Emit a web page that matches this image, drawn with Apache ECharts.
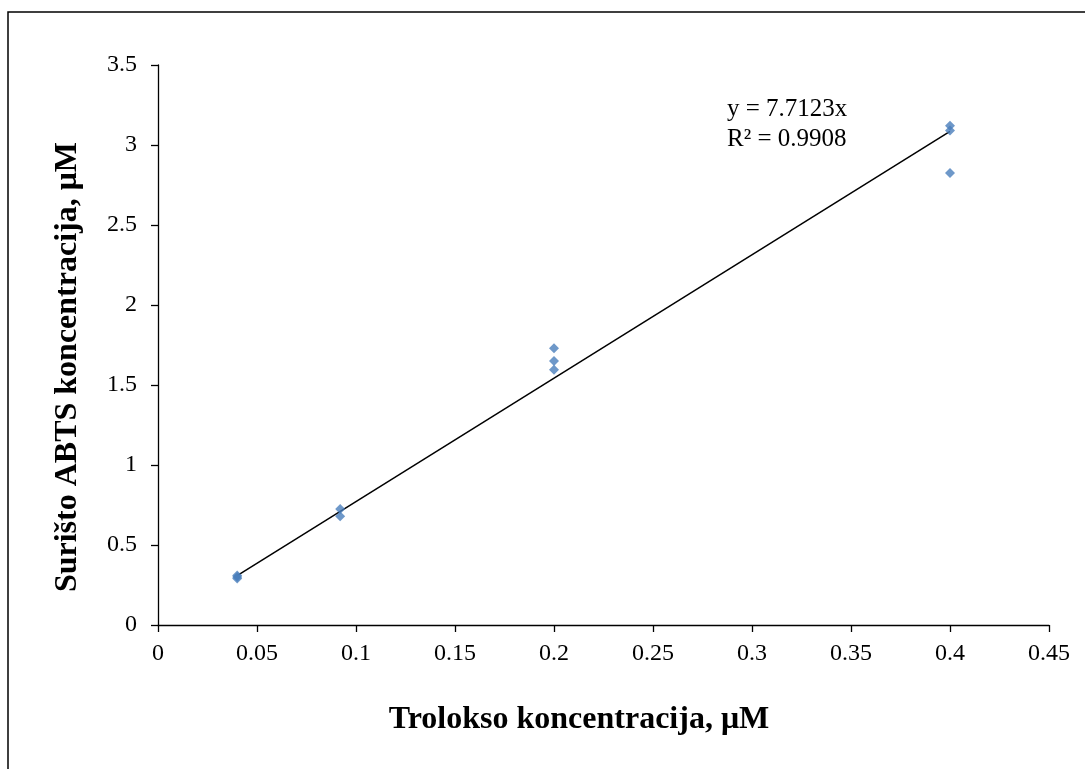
<!DOCTYPE html>
<html><head><meta charset="utf-8">
<script src="https://cdn.jsdelivr.net/npm/echarts@6/dist/echarts.min.js"></script>
<style>html,body{margin:0;padding:0;background:#fff}#c{width:1085px;height:769px}</style>
</head><body><div id="c"></div>
<script>
const pointsX = [0.04, 0.04, 0.04, 0.092, 0.092, 0.2, 0.2, 0.2, 0.4, 0.4, 0.4];
const pointsY = [0.31, 0.30, 0.29, 0.725, 0.68, 1.73, 1.65, 1.595, 3.12, 3.09, 2.825];
const trendX = [0.04, 0.4];
const trendY = [0.308, 3.085];
const xTicks = [0, 0.05, 0.1, 0.15, 0.2, 0.25, 0.3, 0.35, 0.4, 0.45];
const yTicks = [0, 0.5, 1, 1.5, 2, 2.5, 3, 3.5];
const eqLines = ['y = 7.7123x', 'R² = 0.9908'];
const xTitle = 'Trolokso koncentracija, μM';
const yTitle = 'Surišto ABTS koncentracija, μM';

const font = '"Liberation Serif", "Times New Roman", serif';
const chart = echarts.init(document.getElementById('c'), null, {renderer: 'canvas'});
const fmt = list => v => { const r = list.find(t => Math.abs(t - v) < 1e-9); return r === undefined ? '' : String(r); };
chart.setOption({
  animation: false,
  backgroundColor: '#fff',
  grid: {left: 158, top: 65, right: 36, bottom: 144},
  xAxis: {
    type: 'value', min: 0, max: 0.45, interval: 0.05,
    splitLine: {show: false},
    axisLine: {lineStyle: {color: '#000', width: 1.3}},
    axisTick: {show: true, length: 7, lineStyle: {color: '#000', width: 1.3}},
    axisLabel: {color: '#000', fontFamily: font, fontSize: 24, margin: 17, formatter: fmt(xTicks)}
  },
  yAxis: {
    type: 'value', min: 0, max: 3.5, interval: 0.5,
    splitLine: {show: false},
    axisLine: {show: true, lineStyle: {color: '#000', width: 1.3}},
    axisTick: {show: true, length: 7, lineStyle: {color: '#000', width: 1.3}},
    axisLabel: {color: '#000', fontFamily: font, fontSize: 24, margin: 21, formatter: fmt(yTicks)}
  },
  graphic: [
    {type: 'rect', shape: {x: 8, y: 12, width: 1200, height: 900}, style: {fill: 'none', stroke: '#000', lineWidth: 1.5}, silent: true, z: -1},
    {type: 'text', x: 727, y: 94, style: {text: eqLines.join('\n'), font: '25px ' + font, fill: '#000', lineHeight: 30}},
    {type: 'text', x: 579, y: 720, style: {text: xTitle, font: 'bold 32px ' + font, fill: '#000', align: 'center', verticalAlign: 'middle'}},
    {type: 'text', x: 68, y: 367, rotation: Math.PI / 2, style: {text: yTitle, font: 'bold 32px ' + font, fill: '#000', align: 'center', verticalAlign: 'middle'}}
  ],
  series: [
    {type: 'line', data: trendX.map((x, i) => [x, trendY[i]]), symbol: 'none',
      lineStyle: {color: '#000', width: 1.5}, z: 2},
    {type: 'scatter', data: pointsX.map((x, i) => [x, pointsY[i]]), symbol: 'diamond', symbolSize: 10,
      itemStyle: {color: '#4A7EBB'}, z: 3}
  ]
});
</script></body></html>
